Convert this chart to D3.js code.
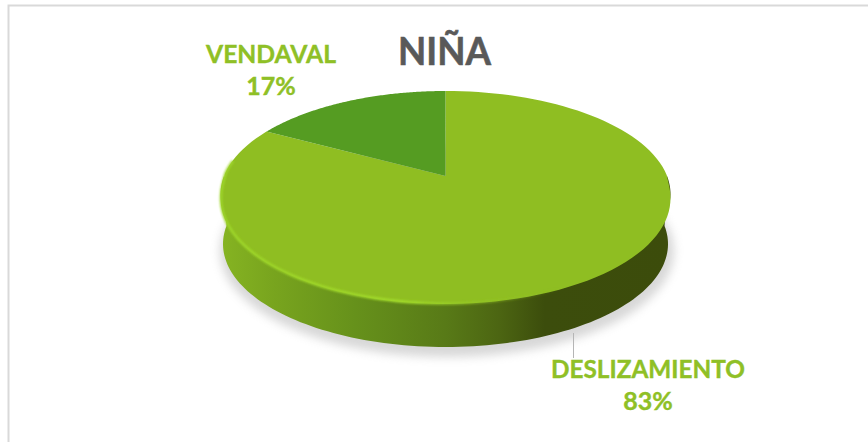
<!DOCTYPE html>
<html><head><meta charset="utf-8">
<style>html,body{margin:0;padding:0;background:#fff}svg{display:block}</style>
<script src="https://cdn.jsdelivr.net/npm/d3@7/dist/d3.min.js"></script></head>
<body><svg id="c" width="868" height="442"></svg>
<script>
const categories = ["DESLIZAMIENTO", "VENDAVAL"];
const values = [83, 17];
const percentLabels = ["83%", "17%"];
const chartTitle = "NIÑA";
const sliceColors = ["#8fbe24", "#549c21"];

const svg = d3.select("#c");
const defs = svg.append("defs");
const font = "Lato, 'Open Sans', sans-serif";

// frame
svg.append("rect").attr("x",8.5).attr("y",5.5).attr("width",900).attr("height",500)
  .attr("fill","#fff").attr("stroke","#d9d9d9").attr("stroke-width",2);

// projection of the unit disc to the tilted top face
const geo = {cx:445.5, cy:194, rx:225, ry:103, k:-0.175, bulge:7};
const topFace = (a, g=geo, r=1) => {
  const u = r*Math.sin(a), v = -r*Math.cos(a), d = 1+g.k*v;
  const t = a - Math.PI/2;
  const extra = (g.bulge && r===1 && t>0 && t<Math.PI) ? g.bulge*Math.pow(Math.sin(t),0.3) : 0;
  return [g.cx + g.rx*u*Math.sqrt(1-g.k*g.k)/d, g.cy + g.ry*(v+g.k)/d + extra];
};
const line = d3.line();
const slices = d3.pie().sort(null).value(d=>d)(values);
const slicePath = (s) => {
  const as = d3.range(0,121).map(i=>s.startAngle+(s.endAngle-s.startAngle)*i/120);
  return line([topFace(0,geo,0), ...as.map(a=>topFace(a))])+"Z";
};

// shadow
defs.append("filter").attr("id","sh").attr("x","-10%").attr("y","-20%").attr("width","120%").attr("height","140%")
  .append("feGaussianBlur").attr("stdDeviation",5);
svg.append("ellipse").attr("cx",447).attr("cy",251).attr("rx",227).attr("ry",106)
  .attr("fill","#a8a8a8").attr("opacity",0.45).attr("filter","url(#sh)");

// side wall
const wallStops = [[0,"#86b422"],[0.12,"#78a41e"],[0.3,"#66911b"],[0.5,"#587a17"],[0.62,"#4c6512"],[0.72,"#3c4d0c"],[1,"#3c4c0b"]];
const wg = defs.append("linearGradient").attr("id","wall").attr("gradientUnits","userSpaceOnUse")
  .attr("x1",220).attr("x2",671).attr("y1",0).attr("y2",0);
wg.selectAll("stop").data(wallStops).join("stop").attr("offset",d=>d[0]).attr("stop-color",d=>d[1]);
const lower = {...geo, cy:244, rx:222.5, bulge:0};
const wallAngles = d3.range(0,121).map(i=>Math.PI/2+Math.PI*i/120);
svg.append("path")
  .attr("d", line([...wallAngles.map(a=>topFace(a,{...geo,bulge:0})), ...wallAngles.slice().reverse().map(a=>topFace(a,lower))])+"Z")
  .attr("fill","url(#wall)");

// soft filter for the top edge
defs.append("filter").attr("id","soft").attr("x","-3%").attr("y","-3%").attr("width","106%").attr("height","106%")
  .append("feGaussianBlur").attr("stdDeviation",0.7);

// slices
svg.append("g").attr("filter","url(#soft)").selectAll("path").data(slices).join("path")
  .attr("d",slicePath).attr("fill",(d,i)=>sliceColors[i]);

// bevel highlight on the front rim
defs.append("filter").attr("id","bl").attr("x","-5%").attr("y","-10%").attr("width","110%").attr("height","120%")
  .append("feGaussianBlur").attr("stdDeviation",1.1);
const hg = defs.append("linearGradient").attr("id","rim").attr("gradientUnits","userSpaceOnUse")
  .attr("x1",220).attr("x2",560).attr("y1",0).attr("y2",0);
hg.selectAll("stop").data([[0,"#9ed62a",1],[0.55,"#a3dc2c",1],[0.8,"#96c826",0.5],[1,"#8fbe24",0]]).join("stop")
  .attr("offset",d=>d[0]).attr("stop-color",d=>d[1]).attr("stop-opacity",d=>d[2]);
const rimAngles = d3.range(0,81).map(i=>Math.PI*0.85+Math.PI*0.70*i/80);
svg.append("path").attr("d",line(rimAngles.map(a=>topFace(a,{...geo,rx:geo.rx-0.5,ry:geo.ry-0.5}))))
  .attr("fill","none").attr("stroke","url(#rim)").attr("stroke-width",2.6).attr("filter","url(#bl)");

// leader
svg.append("line").attr("x1",573.5).attr("x2",573.5).attr("y1",333).attr("y2",358)
  .attr("stroke","#b5b5b5").attr("stroke-width",1);

// title
svg.append("text").attr("x",444.5).attr("y",65).attr("text-anchor","middle")
  .attr("font-family",font).attr("font-weight",700).attr("font-size",39)
  .attr("textLength",93).attr("lengthAdjust","spacingAndGlyphs")
  .attr("stroke","#595959").attr("stroke-width",0.6)
  .attr("fill","#595959").text(chartTitle);

// labels
const labelAnchors = [[648,378],[271,63]];
const labelWidths = [194,130];
const labelG = svg.append("g").attr("font-family",font).attr("font-weight",700).attr("font-size",25)
  .attr("fill","#8fc026").attr("stroke","#8fc026").attr("stroke-width",0.4).attr("text-anchor","middle");
categories.forEach((c,i)=>{
  labelG.append("text").attr("x",labelAnchors[i][0]).attr("y",labelAnchors[i][1])
    .attr("textLength",labelWidths[i]).attr("lengthAdjust","spacingAndGlyphs").text(c);
  labelG.append("text").attr("x",labelAnchors[i][0]).attr("y",labelAnchors[i][1]+32).text(percentLabels[i]);
});
</script></body></html>
